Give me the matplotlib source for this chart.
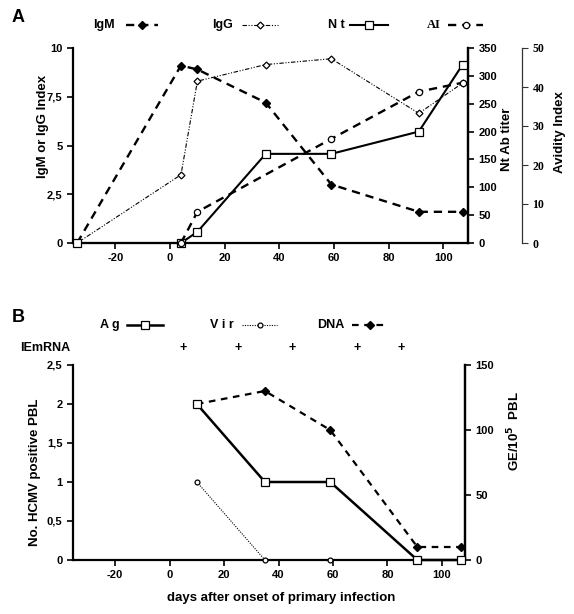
import matplotlib
matplotlib.use("Agg")
import matplotlib.pyplot as plt
from matplotlib.lines import Line2D

plt.rcParams['font.family'] = ['Liberation Sans', 'DejaVu Sans']

# panel A data
days_igm = [-34, 4, 10, 35, 59, 91, 107]
igm = [0, 9.1, 8.9, 7.2, 3.0, 1.6, 1.6]
days_igg = [-34, 4, 10, 35, 59, 91, 107]
igg = [0, 3.5, 8.3, 9.15, 9.45, 6.65, 8.2]
days_nt = [-34, 4, 10, 35, 59, 91, 107]
nt = [0, 0, 20, 160, 160, 200, 320]
days_ai = [4, 10, 59, 91, 107]
ai = [0, 8, 26.7, 38.8, 41.1]

# panel B data
days_ag = [10, 35, 59, 91, 107]
ag = [2, 1, 1, 0, 0]
days_vir = [10, 35, 59]
vir = [1, 0, 0]
days_dna = [10, 35, 59, 91, 107]
dna = [120, 130, 100, 10, 10]
iemrna_x = [5, 25, 45, 69, 85]

xticks = [-20, 0, 20, 40, 60, 80, 100]
W, H = 574, 614

fig = plt.figure(figsize=(5.74, 6.14), dpi=100)

def fx(px):
    return px / W

def fy(py):
    return 1 - py / H

tick_font = dict(fontsize=8, fontweight='bold')
lab_font = dict(fontsize=9.5, fontweight='bold')

IGM = dict(color='black', ls=(0, (3.5, 2.5)), lw=1.7, marker='D', ms=4, mfc='black')
IGG = dict(color='black', ls=(0, (4, 1.5, 1, 1.5, 1, 1.5)), lw=0.8, marker='D', ms=3.5, mfc='white', mew=0.9)
NT = dict(color='black', ls='-', lw=1.5, marker='s', ms=6, mfc='white', mew=0.9)
AI = dict(color='black', ls=(0, (3.5, 2.5)), lw=1.7, marker='o', ms=4.5, mfc='white', mew=0.9)
AG = dict(color='black', ls='-', lw=1.8, marker='s', ms=5.5, mfc='white', mew=0.9)
VIR = dict(color='black', ls=(0, (1, 1.2)), lw=0.8, marker='o', ms=3.5, mfc='white', mew=0.9)
DNA = dict(color='black', ls=(0, (3, 2.5)), lw=1.6, marker='D', ms=4, mfc='black')


def style_axis(ax):
    ax.spines['top'].set_visible(False)
    for s in ['left', 'bottom', 'right']:
        ax.spines[s].set_linewidth(1.6)
    ax.tick_params(width=1.2, length=4)


# ---------- panel A ----------
axA = fig.add_axes([fx(73), fy(243), fx(468 - 73), (243 - 48) / H])
axA.set_xlim(-35.5, 109)
axA.set_ylim(0, 10)
axA.plot(days_igm, igm, clip_on=False, zorder=4, **IGM)
axA.plot(days_igg, igg, clip_on=False, zorder=4, **IGG)
axA.set_yticks([0, 2.5, 5, 7.5, 10])
axA.set_yticklabels(['0', '2,5', '5', '7,5', '10'], **tick_font)
axA.set_xticks(xticks)
axA.set_xticklabels([str(v) for v in xticks], **tick_font)
axA.set_ylabel('IgM or IgG Index', **lab_font)
axA.yaxis.set_label_coords(-0.062, 0.6)
style_axis(axA)

axNt = axA.twinx()
axNt.set_ylim(0, 350)
axNt.plot(days_nt, nt, clip_on=False, zorder=5, **NT)
axNt.set_yticks(range(0, 351, 50))
axNt.set_yticklabels([str(v) for v in range(0, 351, 50)], **tick_font)
axNt.set_ylabel('Nt Ab titer', **lab_font)
axNt.yaxis.set_label_coords(1.083, 0.53)
style_axis(axNt)
axNt.spines['left'].set_visible(False)
axNt.spines['bottom'].set_visible(False)

axAI = axA.twinx()
axAI.set_ylim(0, 50)
axAI.plot(days_ai, ai, clip_on=False, zorder=5, **AI)
axAI.spines['right'].set_position(('axes', 1.137))
for s in ['top', 'left', 'bottom']:
    axAI.spines[s].set_visible(False)
axAI.spines['right'].set_linewidth(0.9)
axAI.spines['right'].set_color('#333333')
axAI.tick_params(width=0.8, length=4, color='#333333')
axAI.set_yticks(range(0, 51, 10))
axAI.set_yticklabels([str(v) for v in range(0, 51, 10)], family='Liberation Serif',
                     fontsize=8.5, fontweight='bold')
axAI.set_ylabel('Avidity Index', **lab_font)
axAI.yaxis.set_label_coords(1.218, 0.57)

# ---------- panel B ----------
axB = fig.add_axes([fx(73), fy(560), fx(465 - 73), (560 - 365) / H])
axB.set_xlim(-35.5, 108.5)
axB.set_ylim(0, 2.5)
axB.plot(days_vir, vir, clip_on=False, zorder=4, **VIR)
axB.plot(days_ag, ag, clip_on=False, zorder=6, **AG)
axB.set_yticks([0, 0.5, 1, 1.5, 2, 2.5])
axB.set_yticklabels(['0', '0,5', '1', '1,5', '2', '2,5'], **tick_font)
axB.set_xticks(xticks)
axB.set_xticklabels([str(v) for v in xticks], **tick_font)
axB.set_ylabel('No. HCMV positive PBL', **lab_font)
axB.yaxis.set_label_coords(-0.082, 0.45)
axB.set_xlabel('days after onset of primary infection', **lab_font)
axB.xaxis.set_label_coords(0.53, -0.165)
style_axis(axB)

axD = axB.twinx()
axD.set_ylim(0, 150)
axD.plot(days_dna, dna, clip_on=False, zorder=3, **DNA)
axD.set_yticks([0, 50, 100, 150])
axD.set_yticklabels(['0', '50', '100', '150'], **tick_font)
axD.set_ylabel('GE/10$^{\\mathbf{5}}$  PBL', **lab_font)
axD.yaxis.set_label_coords(1.105, 0.66)
style_axis(axD)
axD.spines['left'].set_visible(False)
axD.spines['bottom'].set_visible(False)
axB.set_zorder(axD.get_zorder() + 1)
axB.patch.set_visible(False)

# IEmRNA row
fig.text(fx(20), fy(348), 'IEmRNA', ha='left', va='center', fontsize=9, fontweight='bold')
for xv in iemrna_x:
    px = axB.transData.transform((xv, 0))[0]
    fig.text(px / fig.bbox.width, fy(348), '+', ha='center', va='center',
             fontsize=9, fontweight='bold')

# panel letters
fig.text(fx(12), fy(18), 'A', ha='left', va='center', fontsize=13, fontweight='bold')
fig.text(fx(12), fy(318), 'B', ha='left', va='center', fontsize=13, fontweight='bold')


def legend_item(label, x_text, x0, x1, y, style, serif=False):
    fam = ['Liberation Serif'] if serif else ['Liberation Sans']
    fig.text(fx(x_text), fy(y), label, ha='left', va='center', fontsize=9,
             fontweight='bold', family=fam)
    st = dict(style)
    st['marker'] = None
    fig.add_artist(Line2D([fx(x0), fx(x1)], [fy(y), fy(y)], **st))
    mk = {k: v for k, v in style.items() if k in ('marker', 'ms', 'mfc', 'mew', 'color')}
    fig.add_artist(Line2D([fx((x0 + x1) / 2)], [fy(y)], ls='none', **mk))


legend_item('IgM', 93, 126, 158, 25, IGM)
legend_item('IgG', 212, 242, 278, 25, IGG)
legend_item('N t', 328, 350, 388, 25, NT)
legend_item('AI', 427, 448, 483, 25, AI, serif=True)

legend_item('A g', 100, 127, 163, 325, AG)
legend_item('V i r', 210, 242, 277, 325, VIR)
legend_item('DNA', 317, 352, 387, 325, DNA)

fig.savefig('out.png', dpi=100)
